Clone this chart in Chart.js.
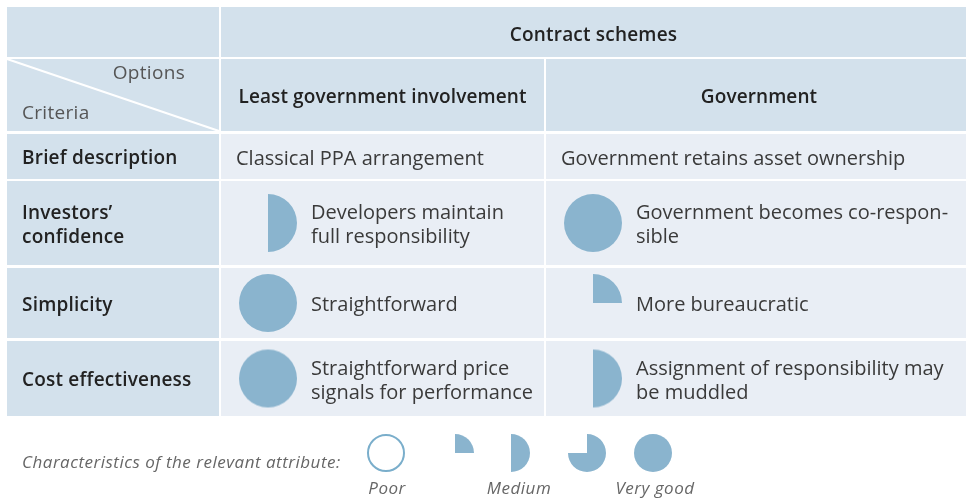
<!DOCTYPE html>
<html>
<head>
<meta charset="utf-8">
<script src="https://cdn.jsdelivr.net/npm/chart.js@4.4.0/dist/chart.umd.min.js"></script>
<style>
  html, body { margin: 0; padding: 0; background: #fff; }
  canvas { display: block; }
</style>
</head>
<body>
<canvas id="c" width="966" height="502"></canvas>
<script>
// ---- data ----
const groupTitle = 'Contract schemes';
const cornerTop = 'Options';
const cornerBottom = 'Criteria';
const options = ['Least government involvement', 'Government'];
const criteria = [['Brief description'], ['Investors’', 'confidence'], ['Simplicity'], ['Cost effectiveness']];
const textLeast = [
  ['Classical PPA arrangement'],
  ['Developers maintain', 'full responsibility'],
  ['Straightforward'],
  ['Straightforward price', 'signals for performance']
];
const textGov = [
  ['Government retains asset ownership'],
  ['Government becomes co-respon-', 'sible'],
  ['More bureaucratic'],
  ['Assignment of responsibility may', 'be muddled']
];
// ratings 0 (poor) .. 4 (very good); null = no rating shown
const scoreLeast = [null, 2, 4, 4];
const scoreGov = [null, 4, 1, 2];
const legendTitle = 'Characteristics of the relevant attribute:';
const legendLevels = [0, 1, 2, 3, 4];
const legendLabels = ['Poor', '', 'Medium', '', 'Very good'];

// ---- layout (pixel units on the hidden linear scales) ----
const L = {
  cols: [[7, 219], [221, 544], [546, 966]],
  head1: [7, 57],
  head2: [59, 131],
  rows: [[134, 179], [181, 265], [268, 338], [341, 416]],
  ballDx: 47, textDx: 90, briefDx: 15,
  ballR: 29, legendR: 19,
  legendX: [386, 455, 511, 587, 653], legendY: 453, legendLabelY: 489,
  labelX: [387, 0, 519, 0, 655],
  lineH: 24
};
const DARK = '#d3e1ec', LIGHT = '#e9eef5', BALL = '#8ab4ce', RING = '#7aaecb';
const FONT = '"Open Sans", "Noto Sans", sans-serif';

function ballCanvas(level, r){
  const pad = 2, s = 2 * r + pad * 2;
  const cv = document.createElement('canvas');
  cv.width = s; cv.height = s;
  const g = cv.getContext('2d');
  const cx = s / 2, cy = s / 2;
  if(level === 0){
    g.beginPath(); g.arc(cx, cy, r - 1, 0, Math.PI * 2);
    g.fillStyle = '#fff'; g.fill();
    g.lineWidth = 2; g.strokeStyle = RING; g.stroke();
    return cv;
  }
  g.fillStyle = BALL;
  g.beginPath();
  if(level === 4){ g.arc(cx, cy, r, 0, Math.PI * 2); }
  else {
    g.moveTo(cx, cy);
    g.arc(cx, cy, r, -Math.PI / 2, -Math.PI / 2 + level * Math.PI / 2);
    g.closePath();
  }
  g.fill();
  return cv;
}

const rowMid = i => (L.rows[i][0] + L.rows[i][1]) / 2;

function ballPoints(scores, col){
  const pts = [], styles = [];
  scores.forEach((s, i) => {
    if(s === null) return;
    pts.push({ x: L.cols[col][0] + L.ballDx, y: rowMid(i) });
    styles.push(ballCanvas(s, L.ballR));
  });
  return { pts, styles };
}
const least = ballPoints(scoreLeast, 1);
const gov = ballPoints(scoreGov, 2);
const legendPts = legendLevels.map((v, i) => ({ x: L.legendX[i], y: L.legendY }));
const legendStyles = legendLevels.map(v => ballCanvas(v, L.legendR));

/* table cells and text, drawn through the chart scales */
const tablePlugin = {
  id: 'table',
  beforeDatasetsDraw(chart){
    const { ctx, scales: { x, y } } = chart;
    const rect = (x0, x1, y0, y1, c) => {
      const px0 = x.getPixelForValue(x0), px1 = x.getPixelForValue(x1);
      const py0 = y.getPixelForValue(y0), py1 = y.getPixelForValue(y1);
      ctx.fillStyle = c;
      ctx.fillRect(px0, py0, px1 - px0, py1 - py0);
    };
    const text = (str, vx, vy, align, font, color, sp) => {
      ctx.font = font; ctx.fillStyle = color; ctx.textAlign = align; ctx.textBaseline = 'middle';
      ctx.letterSpacing = sp || '0px';
      ctx.fillText(str, x.getPixelForValue(vx), y.getPixelForValue(vy));
    };
    const lines = (arr, vx, vy, align, font, color, sp) => {
      const top = vy - (arr.length - 1) * L.lineH / 2;
      arr.forEach((s, k) => text(s, vx, top + k * L.lineH, align, font, color, sp));
    };
    ctx.save();
    const [c0, c1, c2] = L.cols;
    // header
    rect(c0[0], c0[1], L.head1[0], L.head1[1], DARK);
    rect(c1[0], c2[1], L.head1[0], L.head1[1], DARK);
    rect(c0[0], c0[1], L.head2[0], L.head2[1], DARK);
    rect(c1[0], c1[1], L.head2[0], L.head2[1], DARK);
    rect(c2[0], c2[1], L.head2[0], L.head2[1], DARK);
    // diagonal
    ctx.strokeStyle = '#fff'; ctx.lineWidth = 2;
    ctx.beginPath();
    ctx.moveTo(x.getPixelForValue(c0[0]), y.getPixelForValue(L.head2[0]));
    ctx.lineTo(x.getPixelForValue(c0[1]), y.getPixelForValue(L.head2[1]));
    ctx.stroke();
    // body
    L.rows.forEach(r => {
      rect(c0[0], c0[1], r[0], r[1], DARK);
      rect(c1[0], c1[1], r[0], r[1], LIGHT);
      rect(c2[0], c2[1], r[0], r[1], LIGHT);
    });
    const bold = '600 19px ' + FONT, reg = '20px ' + FONT;
    text(groupTitle, (c1[0] + c2[1]) / 2, 36, 'center', bold, '#222', '0.2px');
    text(cornerTop, 185, 74, 'right', '19px ' + FONT, '#555', '0.3px');
    text(cornerBottom, 22, 114, 'left', '19px ' + FONT, '#555', '0.3px');
    text(options[0], (c1[0] + c1[1]) / 2, 98, 'center', bold, '#222', '0.1px');
    text(options[1], (c2[0] + c2[1]) / 2 + 3, 98, 'center', bold, '#222', '0.1px');
    criteria.forEach((c, i) => lines(c, 22, rowMid(i) + 2.5, 'left', bold, '#222', '0.2px'));
    textLeast.forEach((t, i) => {
      const dx = scoreLeast[i] === null ? L.briefDx : L.textDx;
      lines(t, c1[0] + dx, rowMid(i) + 2.5, 'left', reg, '#3a3a3a', '0px');
    });
    textGov.forEach((t, i) => {
      const dx = scoreGov[i] === null ? L.briefDx : L.textDx;
      lines(t, c2[0] + dx, rowMid(i) + 2.5, 'left', reg, '#3a3a3a', '0px');
    });
    // legend text
    const it = 'italic 17px ' + FONT;
    text(legendTitle, 22, 463, 'left', it, '#666', '0.5px');
    legendLabels.forEach((s, i) => { if(s) text(s, L.labelX[i], L.legendLabelY, 'center', it, '#666', '0.5px'); });
    ctx.restore();
  }
};

new Chart(document.getElementById('c'), {
  type: 'scatter',
  data: {
    datasets: [
      { data: least.pts, pointStyle: least.styles, clip: false },
      { data: gov.pts, pointStyle: gov.styles, clip: false },
      { data: legendPts, pointStyle: legendStyles, clip: false }
    ]
  },
  options: {
    responsive: false,
    animation: false,
    devicePixelRatio: 1,
    layout: { padding: 0, autoPadding: false },
    events: [],
    scales: {
      x: { type: 'linear', min: 0, max: 966, display: false },
      y: { type: 'linear', min: 0, max: 502, reverse: true, display: false }
    },
    plugins: { legend: { display: false }, tooltip: { enabled: false } }
  },
  plugins: [tablePlugin]
});
</script>
</body>
</html>
